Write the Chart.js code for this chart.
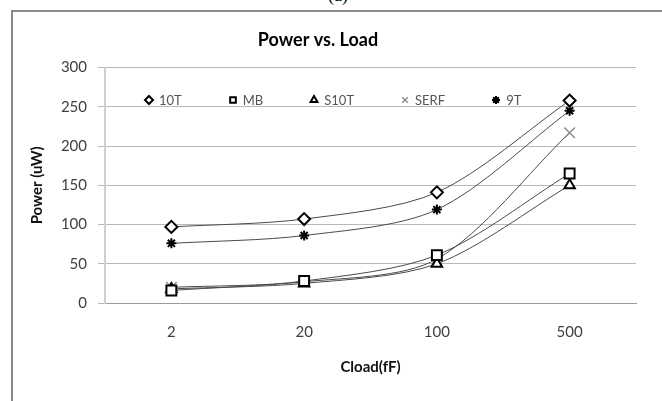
<!DOCTYPE html>
<html>
<head>
<meta charset="utf-8">
<title>Power vs. Load</title>
<script src="https://cdn.jsdelivr.net/npm/chart.js@4.4.1/dist/chart.umd.min.js"></script>
<style>
  html, body { margin: 0; padding: 0; background: #fff; }
  #wrap { position: relative; width: 662px; height: 401px; overflow: hidden; }
  /* caption of the figure, mostly cut off at the top */
  .caption {
    position: absolute; left: 308px; top: -14px; width: 60px;
    text-align: center; font: 18px/18px "Liberation Serif", serif; color: #000;
  }
  /* chart frame, larger than the window like in the scan */
  .frame {
    position: absolute; left: 11px; top: 10px; width: 720px; height: 460px;
    border: 2px solid #8a8a8a;
  }
  #chart { position: absolute; left: 0; top: 0; }
  /* legend lives inside the plot area */
  #legend {
    position: absolute; left: 143px; top: 93px;
    display: flex; column-gap: 45px;
    font: 13px/14px Lato, "Liberation Sans", sans-serif; color: #555;
  }
  .legend-item { display: flex; align-items: center; gap: 4px; white-space: nowrap; }
  .legend-item canvas { display: block; }
</style>
</head>
<body>
<div id="wrap">
  <div class="caption">(a)</div>
  <div class="frame"></div>
  <canvas id="chart" width="678" height="401"></canvas>
  <div id="legend"></div>
</div>
<script>
  'use strict';

  // Load capacitance categories (fF)
  const CATEGORIES = ['2', '20', '100', '500'];

  // Power (uW) per cell type
  const POWER_10T = [97, 107, 141, 258];
  const POWER_MB = [16, 28, 61, 165];
  const POWER_S10T = [18, 25, 50, 150];
  const POWER_SERF = [20, 27, 56, 217];
  const POWER_9T = [76, 86, 119, 245];

  const Y_TICKS = [0, 50, 100, 150, 200, 250, 300];

  const FONT = 'Lato, "Liberation Sans", sans-serif';
  const LINE_COLOR = '#4a4a4a';

  function series(label, data, style) {
    return Object.assign({
      label,
      data,
      borderColor: LINE_COLOR,
      borderWidth: 1,
      tension: 0.3,
      fill: false,
      pointBackgroundColor: '#fff',
      pointBorderColor: '#000',
      pointBorderWidth: 2,
      pointHoverRadius: 6,
    }, style);
  }

  /**
   * HTML legend: one small canvas per marker, drawn with Chart.js' own point helper
   */
  const htmlLegend = {
    id: 'htmlLegend',
    afterUpdate(chart) {
      const box = document.getElementById('legend');
      box.innerHTML = '';
      chart.data.datasets.forEach((ds) => {
        const item = document.createElement('span');
        item.className = 'legend-item';

        const mark = document.createElement('canvas');
        mark.width = 12;
        mark.height = 12;
        const ctx = mark.getContext('2d');
        const lw = Math.min(ds.pointBorderWidth, 2);
        ctx.fillStyle = ds.pointBackgroundColor;
        ctx.strokeStyle = ds.pointBorderColor;
        ctx.lineWidth = lw;
        Chart.helpers.drawPoint(ctx, {
          pointStyle: ds.pointStyle,
          radius: 4,
          rotation: 0,
          borderWidth: lw,
        }, 6, 6);

        const text = document.createElement('span');
        text.textContent = ds.label;

        item.appendChild(mark);
        item.appendChild(text);
        box.appendChild(item);
      });
    },
  };

  new Chart(document.getElementById('chart'), {
    type: 'line',
    data: {
      labels: CATEGORIES,
      datasets: [
        series('10T', POWER_10T, { pointStyle: 'rectRot', pointRadius: 6 }),
        series('MB', POWER_MB, { pointStyle: 'rect', pointRadius: 7 }),
        series('S10T', POWER_S10T, { pointStyle: 'triangle', pointRadius: 6 }),
        series('SERF', POWER_SERF, {
          pointStyle: 'crossRot', pointRadius: 7.5,
          pointBorderColor: '#8c8c8c', pointBorderWidth: 1.5,
        }),
        series('9T', POWER_9T, {
          pointStyle: 'star', pointRadius: 5,
          pointBorderWidth: 2,
        }),
      ],
    },
    options: {
      responsive: false,
      animation: false,
      layout: { padding: { top: 20, left: 0, right: 42, bottom: 0 } },
      plugins: {
        title: {
          display: true,
          text: 'Power vs. Load',
          color: '#000',
          font: { family: FONT, size: 18, weight: 'bold' },
          padding: { top: 9, bottom: 17 },
        },
        legend: { display: false },
      },
      scales: {
        x: {
          offset: true,
          afterFit: (scale) => { scale.height = 98; },
          grid: { display: false, drawTicks: false, offset: true },
          border: { display: true, color: '#9a9a9a', width: 1 },
          ticks: {
            padding: 20,
            color: '#404040',
            font: { family: FONT, size: 15 },
          },
          title: {
            display: true,
            text: 'Cload(fF)',
            color: '#111',
            font: { family: FONT, size: 15, weight: 'bold' },
            padding: { top: 0, bottom: 25 },
          },
        },
        y: {
          min: Y_TICKS[0],
          max: Y_TICKS[Y_TICKS.length - 1],
          afterFit: (scale) => { scale.width = 105; },
          grid: { color: '#b8b8b8', lineWidth: 1, tickLength: 7, tickColor: '#b8b8b8' },
          border: { display: true, color: '#cfcfcf', width: 2 },
          ticks: {
            stepSize: Y_TICKS[1] - Y_TICKS[0],
            padding: 11,
            color: '#404040',
            font: { family: FONT, size: 15 },
          },
          title: {
            display: true,
            text: 'Power (uW)',
            color: '#111',
            font: { family: FONT, size: 15, weight: 'bold' },
            padding: { top: 28, bottom: 0 },
          },
        },
      },
    },
    plugins: [htmlLegend],
  });
</script>
</body>
</html>
